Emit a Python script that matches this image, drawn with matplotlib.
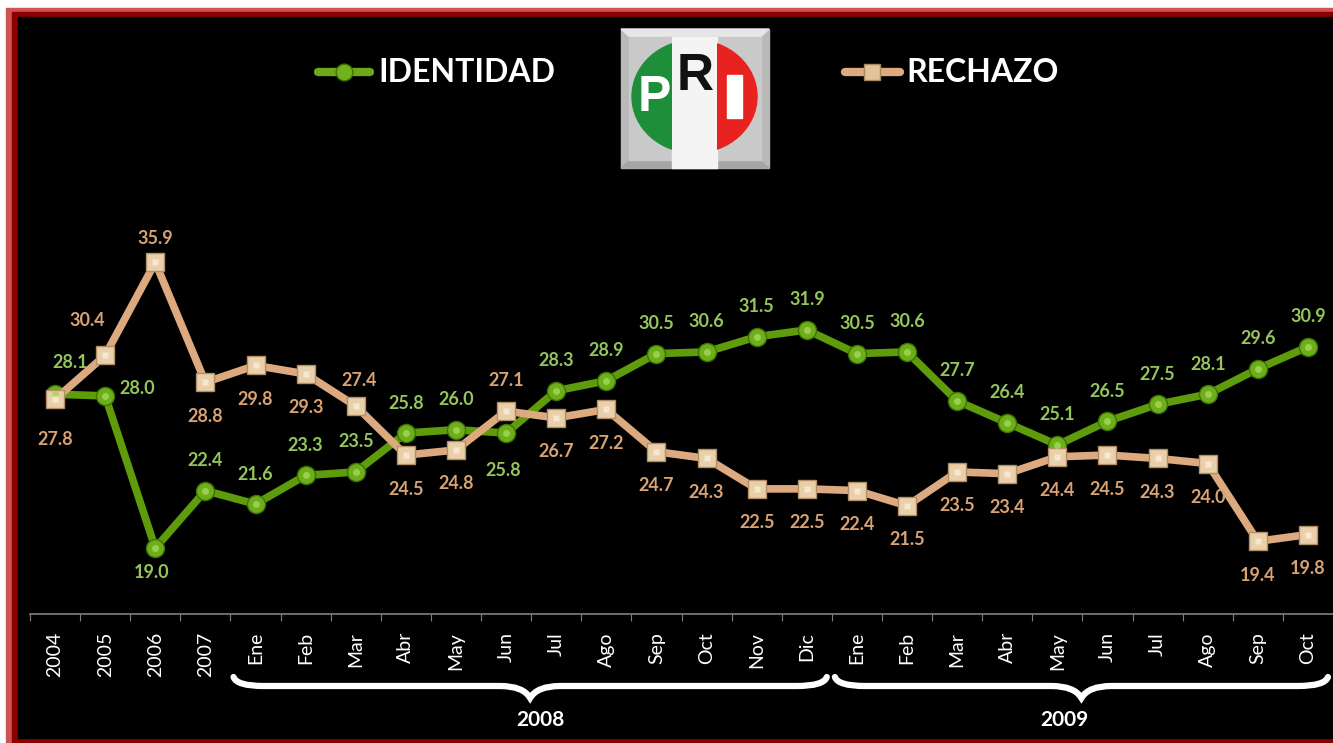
import matplotlib
matplotlib.use('Agg')
import matplotlib.pyplot as plt
from matplotlib.patches import Rectangle, Ellipse, Polygon
from matplotlib.lines import Line2D
from matplotlib.path import Path
from matplotlib.patches import PathPatch
import numpy as np

plt.rcParams['font.family'] = ['Lato', 'DejaVu Sans']

# data
categories = ['2004', '2005', '2006', '2007',
              'Ene', 'Feb', 'Mar', 'Abr', 'May', 'Jun', 'Jul', 'Ago', 'Sep', 'Oct', 'Nov', 'Dic',
              'Ene', 'Feb', 'Mar', 'Abr', 'May', 'Jun', 'Jul', 'Ago', 'Sep', 'Oct']
identidad = [28.1, 28.0, 19.0, 22.4,
             21.6, 23.3, 23.5, 25.8, 26.0, 25.8, 28.3, 28.9, 30.5, 30.6, 31.5, 31.9,
             30.5, 30.6, 27.7, 26.4, 25.1, 26.5, 27.5, 28.1, 29.6, 30.9]
rechazo = [27.8, 30.4, 35.9, 28.8,
           29.8, 29.3, 27.4, 24.5, 24.8, 27.1, 26.7, 27.2, 24.7, 24.3, 22.5, 22.5,
           22.4, 21.5, 23.5, 23.4, 24.4, 24.5, 24.3, 24.0, 19.4, 19.8]
year_groups = [('2008', 4, 15), ('2009', 16, 25)]

# label offsets in pixels (dx, dy), dy positive = up
up = (0, 30)
down = (0, -34)
id_offsets = [(15, 32), (32, 7), (-4, -24)] + [up] * 6 + [(-3, -37)] + [up] * 16
re_offsets = ([(0, -40), (-18, 35), (0, 24), down, down, down, (3, 26), down, down, (0, 31)]
              + [down] * 16)
year_text_dx = [10, -17]

GREEN = '#5E9C0B'
GREEN_TXT = '#94C55A'
TAN = '#DCAA7E'
TAN_TXT = '#D9A273'

W, H = 1333, 743
fig = plt.figure(figsize=(W / 100, H / 100), dpi=100)
fig.patch.set_facecolor('white')

# background / frame in pixel coords
bg = fig.add_axes([0, 0, 1, 1], zorder=0)
bg.set_xlim(0, W)
bg.set_ylim(H, 0)
bg.axis('off')
bg.add_patch(Rectangle((6, 8), W, H, color='#D05353'))
bg.add_patch(Rectangle((12, 12), W, H, color='#8A0000'))
bg.add_patch(Rectangle((18, 17), W, 738 - 17, color='black'))

# main chart
ax = fig.add_axes([30 / W, (H - 614) / H, (W - 30) / W, (614 - 193) / H], zorder=2)
ax.patch.set_alpha(0)
x = np.arange(len(categories))
ax.plot(x, identidad, color=GREEN, lw=5.5, marker='o', markersize=13,
        markerfacecolor='#6DAF1A', markeredgecolor='#3E7300', markeredgewidth=1, zorder=3)
ax.plot(x, identidad, ls='none', marker='o', markersize=5,
        markerfacecolor='#A6D65A', markeredgecolor='none', zorder=4, alpha=0.8)
ax.plot(x, rechazo, color=TAN, lw=5.5, marker='s', markersize=12.5,
        markerfacecolor='#EAD0AA', markeredgecolor='#B28E68', markeredgewidth=1, zorder=3)
ax.plot(x, rechazo, ls='none', marker='s', markersize=5,
        markerfacecolor='#FBEEDC', markeredgecolor='none', zorder=4, alpha=0.8)

for i, v in enumerate(identidad):
    ax.annotate('%.1f' % v, (i, v), xytext=id_offsets[i], textcoords='offset pixels',
                ha='center', va='center', color=GREEN_TXT, fontsize=13, fontweight='bold')
for i, v in enumerate(rechazo):
    ax.annotate('%.1f' % v, (i, v), xytext=re_offsets[i], textcoords='offset pixels',
                ha='center', va='center', color=TAN_TXT, fontsize=13, fontweight='bold')

ax.set_xlim(-0.5, len(categories) - 0.5)
ax.set_ylim(15.1, 40.0)
ax.set_yticks([])
ax.set_xticks(np.arange(len(categories) + 1) - 0.5, minor=False)
ax.set_xticklabels([])
ax.set_xticks(x, minor=True)
ax.set_xticklabels(categories, minor=True, rotation=90, color='white', fontsize=14)
ax.tick_params(axis='x', which='major', length=5, color='#808080', direction='out')
ax.tick_params(axis='x', which='minor', length=0, pad=13)
for s in ['left', 'top', 'right']:
    ax.spines[s].set_visible(False)
ax.spines['bottom'].set_color('#808080')
ax.spines['bottom'].set_linewidth(1.2)

# braces under the month groups
def px(i):
    return 30 + (i + 0.5) * (W - 30) / len(categories)

def brace(x0, x1, ytop=677, ymid=686, ytip=698):
    xm = (x0 + x1) / 2
    verts = [(x0, ytop), (x0 + 3, ymid), (x0 + 30, ymid),
             (xm - 30, ymid), (xm - 7, ymid), (xm, ytip),
             (xm + 7, ymid), (xm + 30, ymid),
             (x1 - 30, ymid), (x1 - 3, ymid), (x1, ytop)]
    codes = [Path.MOVETO, Path.CURVE3, Path.CURVE3,
             Path.LINETO, Path.CURVE3, Path.CURVE3,
             Path.CURVE3, Path.CURVE3,
             Path.LINETO, Path.CURVE3, Path.CURVE3]
    bg.add_patch(PathPatch(Path(verts, codes), fill=False, edgecolor='white',
                           lw=4.5, capstyle='round', zorder=5))

for k, (label, i0, i1) in enumerate(year_groups):
    x0 = px(i0) - 22
    x1 = px(i1) + 20
    brace(x0, x1)
    bg.text((x0 + x1) / 2 + year_text_dx[k], 720, label, color='white', fontsize=15,
            fontweight='bold', ha='center', va='center')

# legend
bg.add_line(Line2D([318, 370], [72, 72], color='#6DA81C', lw=6, solid_capstyle='round', zorder=5))
bg.plot([344], [72], marker='o', markersize=12, markerfacecolor='#72B21E',
        markeredgecolor='#3E7300', zorder=6)
bg.text(378, 72, 'IDENTIDAD', color='white', fontsize=23, fontweight='bold',
        ha='left', va='center')
bg.add_line(Line2D([845, 900], [72, 72], color=TAN, lw=6, solid_capstyle='round', zorder=5))
bg.plot([872], [72], marker='s', markersize=12, markerfacecolor='#E3C49A',
        markeredgecolor='#A88660', zorder=6)
bg.text(906, 72, 'RECHAZO', color='white', fontsize=23, fontweight='bold',
        ha='left', va='center')

# PRI logo
bx0, by0, bx1, by1 = 621, 29, 769, 168
bg.add_patch(Rectangle((bx0, by0), bx1 - bx0, by1 - by0, color='#B9B9B9', zorder=3))
bg.add_patch(Polygon([(bx0, by0), (bx1, by0), (bx1 - 14, by0 + 13), (bx0 + 14, by0 + 13)],
                     color='#E6E6E6', zorder=3))
bg.add_patch(Polygon([(bx0, by1), (bx1, by1), (bx1 - 14, by1 - 12), (bx0 + 14, by1 - 12)],
                     color='#A5A5A5', zorder=3))
bg.add_patch(Rectangle((bx0 + 8, by0 + 8), bx1 - bx0 - 16, by1 - by0 - 16, color='#C9C9C9', zorder=3))
bg.add_patch(Rectangle((672, by0 + 8), 45, by1 - by0 - 8, color='#F4F4F4', zorder=4))
g = Ellipse((694.5, 96.5), 125, 113, color='#1E8E3A', zorder=5)
bg.add_patch(g)
g.set_clip_path(Rectangle((600, 0), 72, 200, transform=bg.transData))
r = Ellipse((694.5, 96.5), 125, 113, color='#E8221E', zorder=5)
bg.add_patch(r)
r.set_clip_path(Rectangle((717, 0), 80, 200, transform=bg.transData))
logo_font = ['Liberation Sans Narrow', 'Liberation Sans']
bg.text(654, 98, 'P', color='white', fontsize=36, fontweight='bold',
        family=logo_font, ha='center', va='center', zorder=6)
bg.text(695, 77, 'R', color='#111111', fontsize=37, fontweight='bold',
        family=logo_font, ha='center', va='center', zorder=6)
bg.add_patch(Rectangle((727, 75), 15, 43, color='white', zorder=6))

plt.savefig('out.png', dpi=100, facecolor=fig.get_facecolor())
